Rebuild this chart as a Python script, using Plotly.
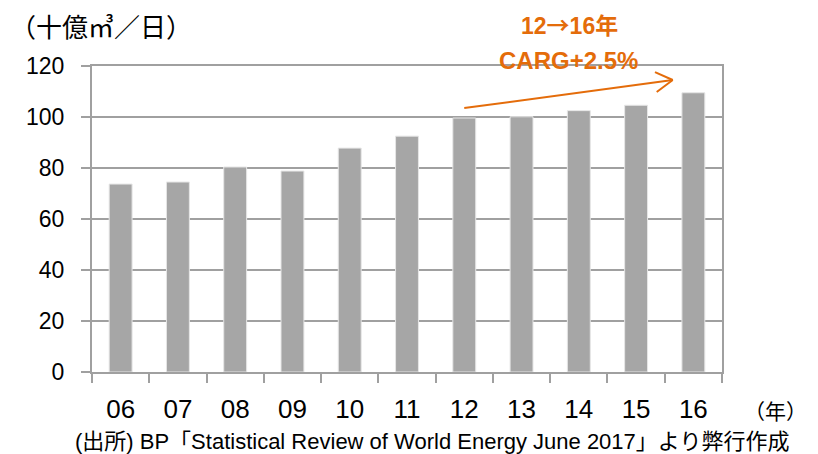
import plotly.graph_objects as go

years = ["06", "07", "08", "09", "10", "11", "12", "13", "14", "15", "16"]
values = [73.7, 74.5, 80.4, 78.8, 87.8, 92.5, 99.6, 100.1, 102.5, 104.6, 109.5]
y_ticks = [0, 20, 40, 60, 80, 100, 120]

orange = "#E46C0A"
grid = "#a0a0a0"

# page body has an 8px default margin, so the figure is sized to fit inside the window
W, H = 810, 446
L, T, PW, PH = 84, 58, 630, 306

fig = go.Figure()
fig.add_trace(go.Bar(
    x=years, y=values, width=0.4,
    marker=dict(color="#a6a6a6", line=dict(color="#e6e6e6", width=1)),
))

fig.update_layout(
    width=W, height=H,
    margin=dict(l=L, r=W - L - PW, t=T, b=H - T - PH, autoexpand=False),
    paper_bgcolor="white", plot_bgcolor="white",
    showlegend=False,
    font=dict(family="Liberation Sans, Arial", color="black"),
)
fig.update_xaxes(
    type="category", showgrid=False, automargin=False,
    showline=True, linecolor=grid, linewidth=2, mirror=True,
    ticks="outside", tickson="boundaries", ticklen=9, tickcolor=grid, tickwidth=1.5,
    tickfont=dict(family="Liberation Sans", size=26), ticklabelstandoff=13,
)
fig.update_yaxes(
    range=[0, 120], tickvals=y_ticks, automargin=False,
    showgrid=True, gridcolor=grid, gridwidth=1.5,
    showline=True, linecolor=grid, linewidth=2, mirror=True,
    ticks="outside", ticklen=9, tickcolor=grid, tickwidth=1.5,
    tickfont=dict(size=23), zeroline=False, ticklabelstandoff=12,
)

def px(xp):
    return (xp - 8 - L) / PW

def py(yp):
    return 1 - (yp - 8 - T) / PH

# title / unit
fig.add_annotation(text="（十億㎥／日）", xref="paper", yref="paper", x=px(8), y=py(25),
                   xanchor="left", yanchor="middle", showarrow=False,
                   font=dict(family="Noto Sans CJK JP", size=26))
fig.add_annotation(text="（年）", xref="paper", yref="paper", x=px(742), y=py(410),
                   xanchor="left", yanchor="middle", showarrow=False,
                   font=dict(family="Noto Sans CJK JP", size=21))
fig.add_annotation(text="(出所) BP「Statistical Review of World Energy June 2017」より弊行作成",
                   xref="paper", yref="paper", x=px(432), y=py(441),
                   xanchor="center", yanchor="middle", showarrow=False,
                   font=dict(family="Liberation Sans, Noto Sans CJK JP", size=22))

# CAGR annotation
fig.add_annotation(text="<b>12<span style='font-family:Noto Sans CJK JP'>→</span>16年</b>",
                   xref="paper", yref="paper", x=px(569), y=py(24),
                   xanchor="center", yanchor="middle", showarrow=False,
                   font=dict(family="Liberation Sans, Noto Sans CJK JP", size=23, color=orange))
fig.add_annotation(text="<b>CARG+2.5%</b>", xref="paper", yref="paper", x=px(568), y=py(60),
                   xanchor="center", yanchor="middle", showarrow=False,
                   font=dict(family="Liberation Sans", size=24, color=orange))

# arrow line and open chevron head
x0, y0 = 6.0, 103.5
x1, y1 = 9.64, 114.5
fig.add_shape(type="line", xref="x", yref="y", x0=x0, y0=y0, x1=x1, y1=y1,
              line=dict(color=orange, width=2))
fig.add_shape(type="line", xref="x", yref="y", x0=x1, y0=y1, x1=x1 - 0.31, y1=y1 + 3.1,
              line=dict(color=orange, width=2))
fig.add_shape(type="line", xref="x", yref="y", x0=x1, y0=y1, x1=x1 - 0.28, y1=y1 - 4.7,
              line=dict(color=orange, width=2))

fig.write_html("out.html")
